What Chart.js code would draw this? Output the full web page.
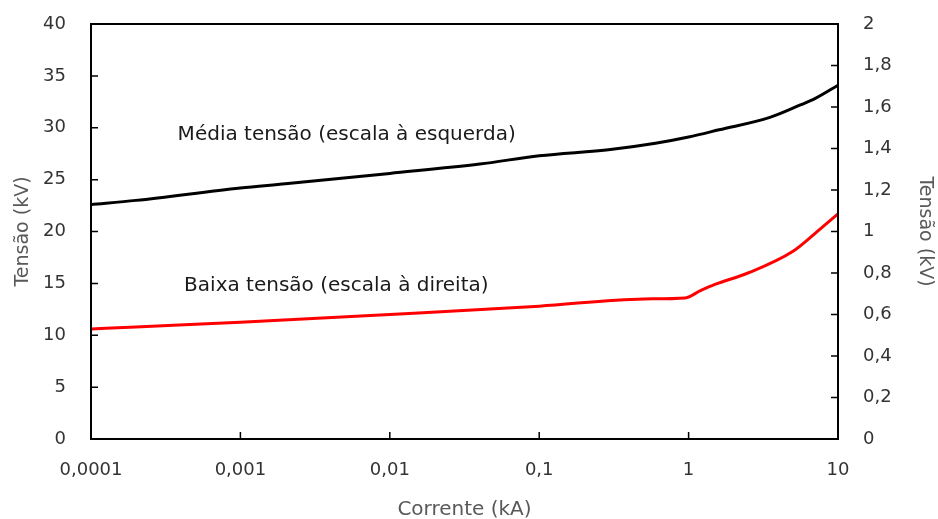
<!DOCTYPE html>
<html>
<head>
<meta charset="utf-8">
<script src="https://cdn.jsdelivr.net/npm/chart.js@4/dist/chart.umd.min.js"></script>
<style>
  html, body { margin: 0; padding: 0; background: #fff; }
  #wrap { width: 938px; height: 519px; }
</style>
</head>
<body>
<div id="wrap"><canvas id="grafico"></canvas></div>
<script>
// medium voltage (left axis, kV)
const correnteMT = [0.0001, 0.0002, 0.001, 0.002, 0.01, 0.04, 0.1, 0.3, 0.6, 1, 1.6, 3.5, 5.6, 7, 10];
const tensaoMT = [22.6, 23.0, 24.2, 24.6, 25.6, 26.5, 27.3, 27.9, 28.5, 29.1, 29.8, 31.0, 32.2, 32.8, 34.1];

// low voltage (right axis, kV)
const correnteBT = [0.0001, 0.0002, 0.001, 0.01, 0.1, 0.5, 0.95, 1.2, 1.5, 2.5, 5, 7, 10];
const tensaoBT = [0.53, 0.54, 0.563, 0.60, 0.64, 0.675, 0.68, 0.715, 0.745, 0.80, 0.905, 0.99, 1.085];

const xTicks = [0.0001, 0.001, 0.01, 0.1, 1, 10];
const labelMT = "Média tensão (escala à esquerda)";
const labelBT = "Baixa tensão (escala à direita)";

const fonte = "'DejaVu Sans', sans-serif";
const virgula = (v) => String(Number(v.toFixed(4))).replace(".", ",");

const toPoints = (xs, ys) => xs.map((x, i) => ({ x, y: ys[i] }));

// plot box + inward tick marks + line labels
const moldura = {
  id: "moldura",
  afterDatasetsDraw(chart) {
    const { ctx, chartArea: a, scales } = chart;
    ctx.save();
    ctx.strokeStyle = "#000";
    ctx.lineWidth = 2;
    ctx.strokeRect(a.left, a.top, a.right - a.left, a.bottom - a.top);

    ctx.lineWidth = 1.5;
    ctx.beginPath();
    scales.x.ticks.forEach((t) => {
      const px = scales.x.getPixelForValue(t.value);
      ctx.moveTo(px, a.bottom);
      ctx.lineTo(px, a.bottom - 7);
    });
    scales.y.ticks.forEach((t) => {
      const py = scales.y.getPixelForValue(t.value);
      ctx.moveTo(a.left, py);
      ctx.lineTo(a.left + 7, py);
    });
    scales.y2.ticks.forEach((t) => {
      const py = scales.y2.getPixelForValue(t.value);
      ctx.moveTo(a.right, py);
      ctx.lineTo(a.right - 7, py);
    });
    ctx.stroke();

    ctx.fillStyle = "#1a1a1a";
    ctx.font = "20px " + fonte;
    ctx.textAlign = "left";
    ctx.textBaseline = "middle";
    ctx.fillText(labelMT, scales.x.getPixelForValue(0.00038), scales.y.getPixelForValue(29.3));
    ctx.fillText(labelBT, scales.x.getPixelForValue(0.00042), scales.y2.getPixelForValue(0.737));
    ctx.restore();
  },
};

new Chart(document.getElementById("grafico"), {
  type: "line",
  data: {
    datasets: [
      {
        label: labelMT,
        data: toPoints(correnteMT, tensaoMT),
        yAxisID: "y",
        borderColor: "#000",
        borderWidth: 3,
        pointRadius: 0,
        cubicInterpolationMode: "monotone",
      },
      {
        label: labelBT,
        data: toPoints(correnteBT, tensaoBT),
        yAxisID: "y2",
        borderColor: "#ff0000",
        borderWidth: 3,
        pointRadius: 0,
        cubicInterpolationMode: "monotone",
      },
    ],
  },
  options: {
    responsive: true,
    maintainAspectRatio: false,
    animation: false,
    layout: { padding: { top: 24, left: 0, right: 0, bottom: 0 } },
    plugins: { legend: { display: false }, tooltip: { enabled: false } },
    scales: {
      x: {
        type: "logarithmic",
        min: 0.0001,
        max: 10,
        afterBuildTicks: (s) => { s.ticks = xTicks.map((v) => ({ value: v })); },
        afterFit: (s) => { s.height = 80; },
        grid: { display: false, drawTicks: false },
        border: { display: false },
        ticks: {
          padding: 21,
          color: "#333",
          font: { family: fonte, size: 18 },
          maxRotation: 0,
          callback: (v) => virgula(v),
        },
        title: {
          display: true,
          text: "Corrente (kA)",
          color: "#595959",
          font: { family: fonte, size: 20 },
          padding: { top: 0, bottom: -3 },
        },
      },
      y: {
        position: "left",
        min: 0,
        max: 40,
        afterFit: (s) => { s.width = 91; },
        grid: { display: false, drawTicks: true, tickLength: 24 },
        border: { display: false },
        ticks: {
          stepSize: 5,
          padding: 1,
          color: "#333",
          font: { family: fonte, size: 18 },
        },
        title: {
          display: true,
          text: "Tensão (kV)",
          color: "#595959",
          font: { family: fonte, size: 19 },
          padding: { top: 12, bottom: 0 },
        },
      },
      y2: {
        position: "right",
        min: 0,
        max: 2,
        afterFit: (s) => { s.width = 100; },
        grid: { display: false, drawTicks: true, tickLength: 24 },
        border: { display: false },
        ticks: {
          stepSize: 0.2,
          padding: 1,
          color: "#333",
          font: { family: fonte, size: 18 },
          callback: (v) => virgula(v),
        },
        title: {
          display: true,
          text: "Tensão (kV)",
          color: "#595959",
          font: { family: fonte, size: 19 },
          padding: { top: 2, bottom: 0 },
        },
      },
    },
  },
  plugins: [moldura],
});
</script>
</body>
</html>
